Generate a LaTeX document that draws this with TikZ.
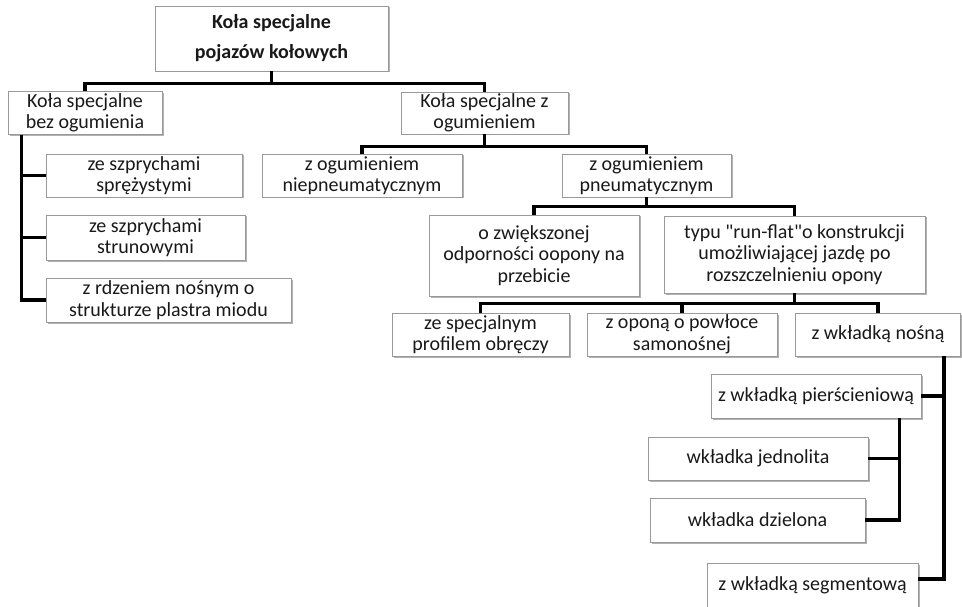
\documentclass[tikz,border=0pt]{standalone}
\usepackage{fontspec}
\setmainfont{Carlito}
\usetikzlibrary{shadows}
\usetikzlibrary{positioning}

\newcommand{\straightdq}{\XeTeXglyph\XeTeXcharglyph"22\relax}

\tikzset{
  box/.style={draw=black!40, line width=0.8pt, fill=white, align=center, inner sep=0pt,
    text=black!90, font=\fontsize{20}{21.5}\selectfont,
    drop shadow={shadow xshift=1.5pt, shadow yshift=-1.5pt, opacity=0.3, fill=black}},
  conn/.style={line width=3.2pt, black}
}

\begin{document}
\begin{tikzpicture}[x=1pt,y=-1pt]
\useasboundingbox (0,0) rectangle (962,607);

\node[box,minimum width=233,minimum height=65,font=\bfseries\fontsize{20}{30}\selectfont] (top) at (271.5,38.5) {Koła specjalne\\pojazów kołowych};

\node[box,minimum width=154,minimum height=43] (bez) at (85,113) {Koła specjalne\\bez ogumienia};
\node[box,minimum width=167,minimum height=42] (zog) at (484.5,113) {Koła specjalne z\\ogumieniem};

\node[box,minimum width=196,minimum height=43] (szpr1) at (144,175.5) {ze szprychami\\sprężystymi};
\node[box,minimum width=199,minimum height=45] (szpr2) at (145.5,237.5) {ze szprychami\\strunowymi};
\node[box,minimum width=245,minimum height=44] (rdzen) at (168.5,300) {z rdzeniem nośnym o\\strukturze plastra miodu};

\node[box,minimum width=200,minimum height=43] (niep) at (362,175.5) {z ogumieniem\\niepneumatycznym};
\node[box,minimum width=169,minimum height=43] (pneu) at (646.5,175.5) {z ogumieniem\\pneumatycznym};

\node[box,minimum width=210,minimum height=81] (odp) at (534,255.5) {o zwiększonej\\odporności oopony na\\przebicie};
\node[box,minimum width=261,minimum height=77] (runflat) at (794.5,254.5) {typu \straightdq run-flat\straightdq o konstrukcji\\umożliwiającej jazdę po\\rozszczelnieniu opony};

\node[box,minimum width=177,minimum height=43] (profil) at (480.5,334.5) {ze specjalnym\\profilem obręczy};
\node[box,minimum width=190,minimum height=43] (oponasam) at (682,334.5) {z oponą o powłoce\\samonośnej};
\node[box,minimum width=165,minimum height=43] (nosna) at (878,334.5) {z wkładką nośną};

\node[box,minimum width=210,minimum height=44] (pierscien) at (816,396) {z wkładką pierścieniową};
\node[box,minimum width=220,minimum height=43] (jednolita) at (758,458.5) {wkładka jednolita};
\node[box,minimum width=215,minimum height=44] (dzielona) at (757.5,520) {wkładka dzielona};
\node[box,minimum width=211,minimum height=44] (segment) at (812.5,585) {z wkładką segmentową};

% connectors
\foreach \c in {bez,zog}
  \draw[conn] (top.south) -- ++(0,12) -| (\c.north);
\foreach \c in {niep,pneu}
  \draw[conn] (zog.south) -- ++(0,12) -| (\c.north);
\foreach \c in {odp,runflat}
  \draw[conn] (pneu.south) -- ++(0,9) -| (\c.north);
\foreach \c in {profil,oponasam,nosna}
  \draw[conn] (runflat.south) -- ++(0,10) -| (\c.north);
\foreach \c in {szpr1,szpr2,rdzen}
  \draw[conn] ([xshift=14pt]bez.south west) |- (\c.west);
\draw[conn] ([xshift=-17pt]nosna.south east) |- (pierscien.east);
\draw[conn] ([xshift=-17pt]nosna.south east) |- ([yshift=6pt]segment.east);
\foreach \c in {jednolita,dzielona}
  \draw[conn] ([xshift=-22pt]pierscien.south east) |- (\c.east);

\end{tikzpicture}
\end{document}
